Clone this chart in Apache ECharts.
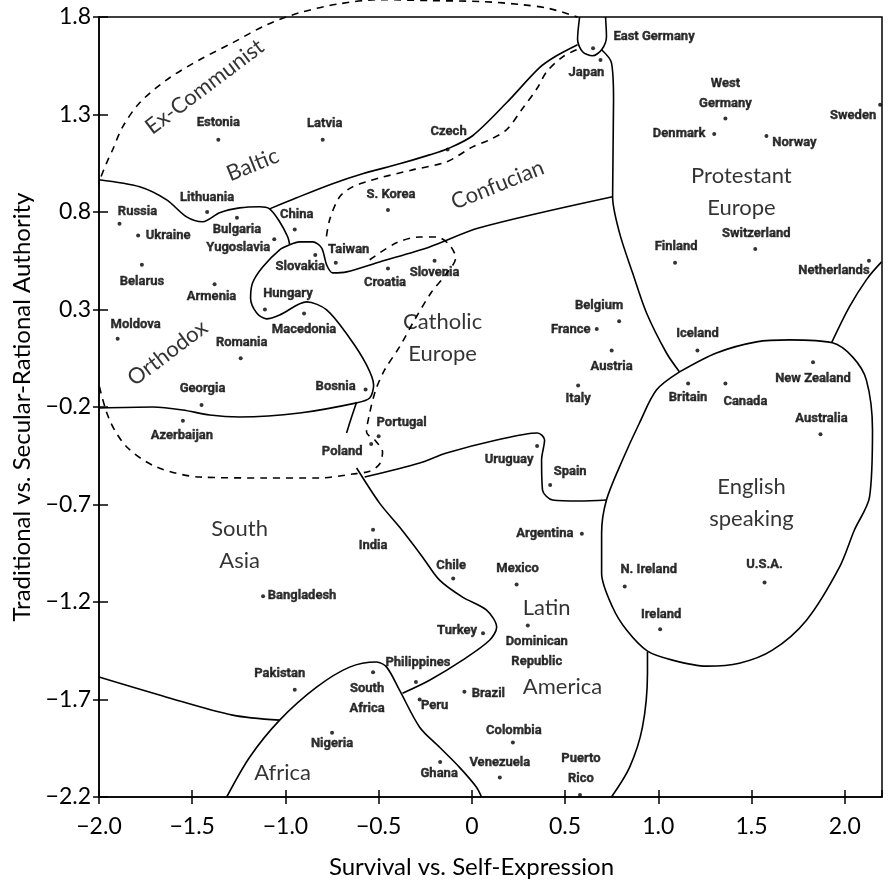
<!DOCTYPE html>
<html><head><meta charset="utf-8">
<script src="https://cdn.jsdelivr.net/npm/echarts@6/dist/echarts.min.js"></script>
<style>html,body{margin:0;padding:0;background:#fff}#c{width:894px;height:886px}</style>
</head><body><div id="c"></div>
<script>
// ---------------- data ----------------
const countries = ['Estonia','Latvia','Czech','Russia','Ukraine','Lithuania','Bulgaria','Yugoslavia','China','S. Korea','Taiwan','Slovakia','Croatia','Slovenia','Belarus','Armenia','Hungary','Macedonia','Moldova','Romania','Bosnia','Georgia','Azerbaijan','Portugal','Poland','India','East Germany','Japan','West\nGermany','Denmark','Norway','Sweden','Finland','Switzerland','Netherlands','Belgium','France','Austria','Italy','Iceland','Britain','Canada','New Zealand','Australia','Uruguay','Spain','Argentina','Bangladesh','Pakistan','South\nAfrica','Nigeria','Philippines','Peru','Ghana','Chile','Mexico','Dominican\nRepublic','Turkey','Brazil','Colombia','Venezuela','Puerto\nRico','N. Ireland','U.S.A.','Ireland'];
const selfExpression = [-1.36,-0.80,-0.13,-1.89,-1.79,-1.42,-1.26,-1.06,-0.95,-0.45,-0.73,-0.84,-0.45,-0.20,-1.77,-1.38,-1.11,-0.90,-1.90,-1.24,-0.57,-1.45,-1.55,-0.50,-0.54,-0.53,0.65,0.69,1.36,1.30,1.58,2.19,1.09,1.52,2.13,0.79,0.67,0.75,0.57,1.21,1.16,1.36,1.83,1.87,0.35,0.42,0.59,-1.12,-0.95,-0.53,-0.75,-0.30,-0.28,-0.17,-0.10,0.24,0.30,0.06,-0.04,0.22,0.15,0.58,0.82,1.57,1.01];
const secularRational = [1.17,1.17,1.12,0.74,0.68,0.80,0.77,0.66,0.71,0.81,0.54,0.58,0.51,0.55,0.53,0.43,0.30,0.28,0.15,0.05,-0.11,-0.19,-0.27,-0.35,-0.39,-0.83,1.64,1.58,1.28,1.20,1.19,1.35,0.54,0.61,0.55,0.24,0.20,0.09,-0.09,0.09,-0.08,-0.08,0.03,-0.34,-0.40,-0.60,-0.85,-1.17,-1.65,-1.56,-1.87,-1.61,-1.70,-2.02,-1.08,-1.11,-1.32,-1.36,-1.66,-1.92,-2.10,-2.19,-1.12,-1.10,-1.34];

const zoneNames = ['Ex-Communist','Baltic','Confucian','Protestant\nEurope','Orthodox','Catholic\nEurope','South\nAsia','Africa','Latin','America','English\nspeaking'];
const zoneX = [-1.433,-1.176,0.138,1.446,-1.632,-0.157,-1.246,-1.015,0.401,0.486,1.500];
const zoneY = [1.442,1.042,0.939,0.903,0.077,0.154,-0.908,-2.078,-1.231,-1.637,-0.693];

const xTickValues = [-2.0,-1.5,-1.0,-0.5,0,0.5,1.0,1.5,2.0];
const yTickValues = [1.8,1.3,0.8,0.3,-0.2,-0.7,-1.2,-1.7,-2.2];

// zone boundaries (data units)
const orthodoxTop = [[-2.0,0.965],[-1.782,0.929],[-1.637,0.862],[-1.530,0.775],[-1.444,0.750],[-1.353,0.796],[-1.246,0.821],[-1.138,0.827],[-1.085,0.816],[-1.031,0.750],[-0.988,0.673],[-0.977,0.632]];
const orthodoxEast = [[-0.977,0.632],[-1.031,0.606],[-1.122,0.518],[-1.176,0.437],[-1.187,0.359],[-1.154,0.282],[-1.101,0.252],[-1.031,0.272],[-0.886,0.339],[-0.779,0.298],[-0.656,0.154],[-0.565,0.016],[-0.527,-0.087],[-0.548,-0.154],[-0.618,-0.179],[-0.924,-0.231],[-1.246,-0.251],[-1.406,-0.241],[-1.551,-0.215],[-1.712,-0.200],[-2.0,-0.205]];
const confucianSouth = [[-0.977,0.632],[-0.924,0.647],[-0.854,0.647],[-0.806,0.616],[-0.779,0.529],[-0.747,0.488],[-0.672,0.493],[-0.495,0.544],[-0.227,0.621],[0.041,0.719],[0.755,0.878]];
const czechJapan = [[-1.085,0.816],[-0.940,0.873],[-0.747,0.945],[-0.586,0.996],[-0.388,1.047],[-0.227,1.093],[-0.130,1.124],[0.004,1.191],[0.186,1.360],[0.363,1.540],[0.454,1.601],[0.567,1.658]];
const eastGermanyLoop = [[0.578,1.80],[0.567,1.684],[0.594,1.622],[0.647,1.601],[0.696,1.632],[0.722,1.699],[0.717,1.80]];
const protestantWest = [[0.696,1.632],[0.749,1.565],[0.760,1.375],[0.755,0.878],[0.792,0.693],[0.862,0.488],[0.937,0.282],[1.044,0.077],[1.114,-0.020]];
const englishLoop = [[1.114,-0.020],[0.990,-0.113],[0.899,-0.282],[0.808,-0.472],[0.722,-0.677],[0.696,-0.847],[0.696,-1.052],[0.755,-1.227],[0.830,-1.344],[0.942,-1.452],[1.076,-1.498],[1.259,-1.529],[1.435,-1.514],[1.612,-1.447],[1.795,-1.293],[1.972,-1.021],[2.052,-0.831],[2.133,-0.662],[2.149,-0.318],[2.116,-0.061],[2.042,0.057],[1.934,0.129],[1.704,0.144],[1.527,0.134],[1.312,0.077],[1.114,-0.020]];
const protestantEnglish = [[1.930,0.130],[2.025,0.313],[2.116,0.452],[2.198,0.544]];
const latinEnglish = [[0.942,-1.457],[0.942,-1.565],[0.915,-1.842],[0.846,-2.048],[0.749,-2.2]];
const uruguaySpain = [[-0.575,-0.559],[-0.280,-0.487],[-0.136,-0.436],[0.133,-0.369],[0.352,-0.333],[0.390,-0.369],[0.374,-0.472],[0.379,-0.626],[0.433,-0.677],[0.578,-0.682],[0.722,-0.677]];
const latinSouthAsia = [[-0.618,-0.513],[-0.495,-0.693],[-0.388,-0.816],[-0.264,-0.970],[-0.173,-1.088],[-0.050,-1.175],[0.079,-1.242],[0.133,-1.329],[0.095,-1.396],[-0.050,-1.498],[-0.227,-1.601],[-0.372,-1.668]];
const africaArc = [[-1.315,-2.2],[-1.192,-1.996],[-1.031,-1.806],[-0.833,-1.637],[-0.656,-1.534],[-0.511,-1.508],[-0.457,-1.534],[-0.388,-1.652],[-0.280,-1.842],[-0.173,-1.945],[-0.066,-2.048],[0.025,-2.150],[0.052,-2.2]];
const southAsiaBottom = [[-2.0,-1.585],[-1.637,-1.688],[-1.283,-1.780],[-1.031,-1.806]];
const polandStub = [[-0.618,-0.174],[-0.645,-0.251],[-0.672,-0.333]];
const exCommunistDashed = [[-0.548,0.555],[-0.404,0.642],[-0.280,0.672],[-0.189,0.672],[-0.120,0.631],[-0.087,0.565],[-0.146,0.472],[-0.216,0.390],[-0.307,0.247],[-0.388,0.108],[-0.468,-0.010],[-0.516,-0.113],[-0.548,-0.231],[-0.565,-0.328],[-0.516,-0.374],[-0.479,-0.431],[-0.495,-0.492],[-0.548,-0.529],[-0.640,-0.544],[-0.817,-0.564],[-1.101,-0.564],[-1.460,-0.559],[-1.691,-0.508],[-1.851,-0.405],[-1.943,-0.267],[-2.007,-0.061],[-2.034,0.077],[-2.050,0.211],[-2.077,0.452],[-2.071,0.590],[-2.066,0.693],[-2.061,0.796],[-2.023,0.898],[-1.996,0.965],[-1.959,1.052],[-1.927,1.119],[-1.873,1.237],[-1.782,1.360],[-1.637,1.478],[-1.460,1.581],[-1.283,1.668],[-1.101,1.760],[-0.924,1.822],[-0.709,1.868],[-0.495,1.889],[-0.227,1.884],[0.058,1.879],[0.272,1.863],[0.417,1.843],[0.567,1.80]];
const confucianDashed = [[0.562,1.632],[0.487,1.596],[0.401,1.519],[0.352,1.437],[0.267,1.324],[0.186,1.222],[0.095,1.170],[0.004,1.134],[-0.136,1.057],[-0.318,1.016],[-0.495,0.975],[-0.565,0.955],[-0.640,0.929],[-0.709,0.878],[-0.763,0.760],[-0.784,0.647]];

// ---------------- styles (label placement, offsets from the dot in px) ----------------
const labelOffsets = {
 'Estonia':[0,-17],'Latvia':[2,-16],'Czech':[1,-18],'Russia':[18,-12],'Ukraine':[30,0],'Lithuania':[0,-14],
 'Bulgaria':[0,12],'Yugoslavia':[-36,8],'China':[2,-15],'S. Korea':[3,-15],'Taiwan':[13,-13],'Slovakia':[-15,12],
 'Croatia':[-3,14],'Slovenia':[0,12],'Belarus':[0,17],'Armenia':[-3,13],'Hungary':[23,-16],'Macedonia':[0,16],
 'Moldova':[18,-14],'Romania':[1,-16],'Bosnia':[-30,-3],'Georgia':[1,-16],'Azerbaijan':[-1,15],'Portugal':[23,-14],
 'Poland':[-29,8],'India':[0,16],'East Germany':[61,-11],'Japan':[-14,13],'West\nGermany':[0,-25],'Denmark':[-35,0],
 'Norway':[28,7],'Sweden':[-27,11],'Finland':[1,-16],'Switzerland':[1,-15],'Netherlands':[-35,10],'Belgium':[-20,-15],
 'France':[-26,1],'Austria':[0,16],'Italy':[0,13],'Iceland':[0,-17],'Britain':[0,14],'Canada':[20,18],
 'New Zealand':[0,17],'Australia':[1,-16],'Uruguay':[-28,14],'Spain':[20,-13],'Argentina':[-37,0],'Bangladesh':[39,0],
 'Pakistan':[-15,-16],'South\nAfrica':[-6,27],'Nigeria':[0,11],'Philippines':[2,-19],'Peru':[15,6],'Ghana':[-1,12],
 'Chile':[-2,-13],'Mexico':[1,-16],'Dominican\nRepublic':[9,26],'Turkey':[-26,-2],'Brazil':[24,2],'Colombia':[1,-12],
 'Venezuela':[0,-15],'Puerto\nRico':[1,-26],'N. Ireland':[24,-17],'U.S.A.':[0,-18],'Ireland':[1,-15]
};
const zoneRotate = {'Ex-Communist':37,'Baltic':22,'Confucian':22,'Orthodox':37};

const BIG = 'Lato, "Noto Sans", sans-serif';
const NARROW = 'Roboto, "Liberation Sans", sans-serif';

function fmt(v){
  const r = Math.round(v*10)/10;
  if (Math.abs(r) < 1e-9) return '0';
  return r.toFixed(1).replace('-', '\u2212');
}
function boundary(data, dashed){
  return {type:'line', data:data, symbol:'none', showSymbol:false, smooth:0.3, clip:false, silent:true,
    animation:false, z:2, lineStyle:{color:'#000', width:1.6, type: dashed ? [7,6] : 'solid'}};
}

const countryData = countries.map((n,i)=>({
  name:n, value:[selfExpression[i], secularRational[i]],
  label:{offset: labelOffsets[n] || [0,-14]}
}));
const zoneData = zoneNames.map((n,i)=>({
  name:n, value:[zoneX[i], zoneY[i]], label:{rotate: zoneRotate[n] || 0}
}));

const chart = echarts.init(document.getElementById('c'), null, {renderer:'canvas'});
const axisLineStyle = {color:'#000', width:1.5};
chart.setOption({
  animation:false,
  backgroundColor:'#fff',
  grid:{left:99, right:12, top:17, bottom:89, show:true, borderColor:'#000', borderWidth:1.5, backgroundColor:'transparent'},
  xAxis:[
    {type:'value', min:-2.0, max:2.2, interval:0.5, position:'bottom',
     name:'Survival vs. Self-Expression', nameLocation:'middle', nameGap:58,
     nameTextStyle:{fontFamily:BIG, fontSize:24, color:'#000', padding:[0,38,0,0]},
     axisLine:{show:true, onZero:false, lineStyle:axisLineStyle},
     axisTick:{show:true, length:7, lineStyle:axisLineStyle},
     axisLabel:{fontFamily:BIG, fontSize:23, color:'#000', margin:18, showMaxLabel:false, formatter:fmt},
     splitLine:{show:false}},
    {type:'value', min:-2.0, max:2.2, interval:0.5, position:'bottom',
     axisLine:{show:false, onZero:false}, axisTick:{show:true, inside:true, length:7, lineStyle:axisLineStyle},
     axisLabel:{show:false}, splitLine:{show:false}}
  ],
  yAxis:[
    {type:'value', min:-2.2, max:1.8, interval:0.5, position:'left',
     name:'Traditional vs. Secular-Rational Authority', nameLocation:'middle', nameGap:64,
     nameTextStyle:{fontFamily:BIG, fontSize:24, color:'#000'},
     axisLine:{show:true, onZero:false, lineStyle:axisLineStyle},
     axisTick:{show:true, length:6, lineStyle:axisLineStyle},
     axisLabel:{fontFamily:BIG, fontSize:23, color:'#000', margin:8, formatter:fmt},
     splitLine:{show:false}},
    {type:'value', min:-2.2, max:1.8, interval:0.5, position:'left',
     axisLine:{show:false, onZero:false}, axisTick:{show:true, inside:true, length:9, lineStyle:axisLineStyle},
     axisLabel:{show:false}, splitLine:{show:false}}
  ],
  series:[
    boundary(orthodoxTop,false), boundary(orthodoxEast,false), boundary(confucianSouth,false),
    boundary(czechJapan,false), boundary(eastGermanyLoop,false), boundary(protestantWest,false),
    boundary(englishLoop,false), boundary(protestantEnglish,false), boundary(latinEnglish,false),
    boundary(uruguaySpain,false), boundary(latinSouthAsia,false), boundary(africaArc,false),
    boundary(southAsiaBottom,false), boundary(polandStub,false),
    boundary(exCommunistDashed,true), boundary(confucianDashed,true),
    {type:'scatter', data:countryData, symbol:'circle', symbolSize:4, itemStyle:{color:'#000'}, z:5, silent:true,
     label:{show:true, position:'inside', formatter:p=>p.name, fontFamily:NARROW, fontWeight:'bold', fontSize:13,
            lineHeight:20, color:'#000', textBorderColor:'#000', textBorderWidth:0.4}},
    {type:'scatter', data:zoneData, symbol:'circle', symbolSize:0, itemStyle:{color:'transparent'}, z:4, silent:true,
     label:{show:true, position:'inside', formatter:p=>p.name, fontFamily:BIG, fontSize:22, lineHeight:32, color:'#000'}}
  ]
});
</script>
</body></html>
